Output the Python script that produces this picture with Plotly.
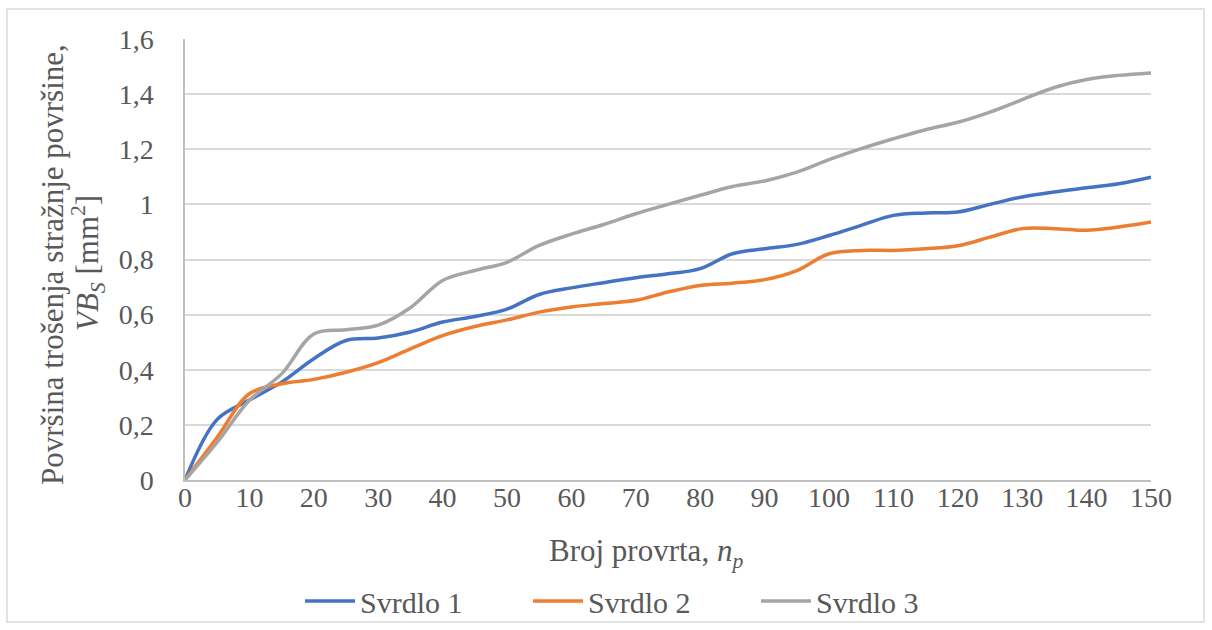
import plotly.graph_objects as go

# Number of drilled holes
broj_provrta = list(range(0, 155, 5))

# Flank wear area VB_S [mm^2] per drill
svrdlo_1 = [0, 0.22, 0.29, 0.355, 0.44, 0.506, 0.515, 0.537, 0.573, 0.593, 0.62,
            0.673, 0.697, 0.716, 0.734, 0.748, 0.767, 0.821, 0.839, 0.855, 0.887,
            0.924, 0.96, 0.969, 0.972, 1.0, 1.027, 1.045, 1.06, 1.075, 1.099]
svrdlo_2 = [0, 0.155, 0.313, 0.349, 0.365, 0.391, 0.426, 0.476, 0.524, 0.557, 0.581,
            0.609, 0.628, 0.64, 0.652, 0.682, 0.706, 0.714, 0.727, 0.76, 0.821,
            0.833, 0.833, 0.839, 0.85, 0.881, 0.912, 0.912, 0.906, 0.918, 0.936]
svrdlo_3 = [0, 0.137, 0.289, 0.385, 0.53, 0.545, 0.562, 0.625, 0.724, 0.76, 0.79,
            0.851, 0.892, 0.927, 0.966, 1.0, 1.033, 1.065, 1.085, 1.117, 1.162,
            1.202, 1.238, 1.271, 1.298, 1.335, 1.38, 1.424, 1.453, 1.468, 1.477]

series_names = ["Svrdlo 1", "Svrdlo 2", "Svrdlo 3"]
colors = ["#4472C4", "#ED7D31", "#A5A5A5"]

x_ticks = list(range(0, 160, 10))
y_ticks = [0, 0.2, 0.4, 0.6, 0.8, 1.0, 1.2, 1.4, 1.6]

y_title_lines = ["Površina trošenja stražnje površine,",
                 "<i>VB<sub>S</sub></i> [mm<sup>2</sup>]"]
x_title = "Broj provrta, <i>n<sub>p</sub></i>"

FONT = "Liberation Serif"
TEXT = "#595959"
FS_TICK = 28
FS_TITLE = 31
FS_LEG = 30

# plot-area geometry in pixels
L, R, T, B = 185, 61, 39, 150
W, H = 1212, 630
PW, PH = W - L - R, H - T - B


def px_x(p):
    return (p - L) / PW


def px_y(p):
    return (H - B - p) / PH


fig = go.Figure()
for name, ys, col in zip(series_names, [svrdlo_1, svrdlo_2, svrdlo_3], colors):
    fig.add_trace(go.Scatter(
        x=broj_provrta, y=ys, name=name, mode="lines",
        line=dict(color=col, width=3.5, shape="spline", smoothing=1.0),
    ))

fig.update_layout(
    width=W, height=H,
    margin=dict(l=L, r=R, t=T, b=B, autoexpand=False),
    paper_bgcolor="white", plot_bgcolor="white",
    separators=", ",
    font=dict(family=FONT, size=FS_TICK, color=TEXT),
    showlegend=True,
    legend=dict(orientation="h", x=px_x(642), xanchor="center", y=px_y(601), yanchor="middle",
                bgcolor="rgba(0,0,0,0)",
                font=dict(family=FONT, size=FS_LEG, color=TEXT),
                entrywidth=163, entrywidthmode="pixels", itemwidth=50),
)

fig.update_xaxes(
    range=[0, 150], tickvals=x_ticks, showgrid=False, zeroline=False,
    showline=True, linecolor="#BFBFBF", linewidth=1.5,
    ticks="", tickfont=dict(family=FONT, size=FS_TICK, color=TEXT), ticklabelstandoff=-8,
)
fig.update_yaxes(
    range=[0, 1.6], tickvals=y_ticks, showgrid=True, gridcolor="#D9D9D9", gridwidth=1.5,
    zeroline=False, showline=True, linecolor="#BFBFBF", linewidth=1.5,
    ticks="", tickfont=dict(family=FONT, size=FS_TICK, color=TEXT), ticklabelstandoff=24,
)

# axis titles
fig.add_annotation(text=y_title_lines[0], xref="paper", yref="paper",
                   x=px_x(52), y=px_y(265), xanchor="center", yanchor="middle",
                   textangle=-90, showarrow=False,
                   font=dict(family=FONT, size=FS_TITLE, color=TEXT))
fig.add_annotation(text=y_title_lines[1], xref="paper", yref="paper",
                   x=px_x(88), y=px_y(263), xanchor="center", yanchor="middle",
                   textangle=-90, showarrow=False,
                   font=dict(family=FONT, size=FS_TITLE, color=TEXT))
fig.add_annotation(text=x_title, xref="paper", yref="paper",
                   x=px_x(646), y=px_y(553), xanchor="center", yanchor="middle",
                   showarrow=False, font=dict(family=FONT, size=FS_TITLE, color=TEXT))

# outer chart frame
fig.add_shape(type="rect", xref="paper", yref="paper",
              x0=px_x(7), x1=px_x(1204), y0=px_y(622), y1=px_y(9),
              line=dict(color="#D9D9D9", width=1.5), fillcolor="rgba(0,0,0,0)", layer="below")

fig.write_html("out.html")
